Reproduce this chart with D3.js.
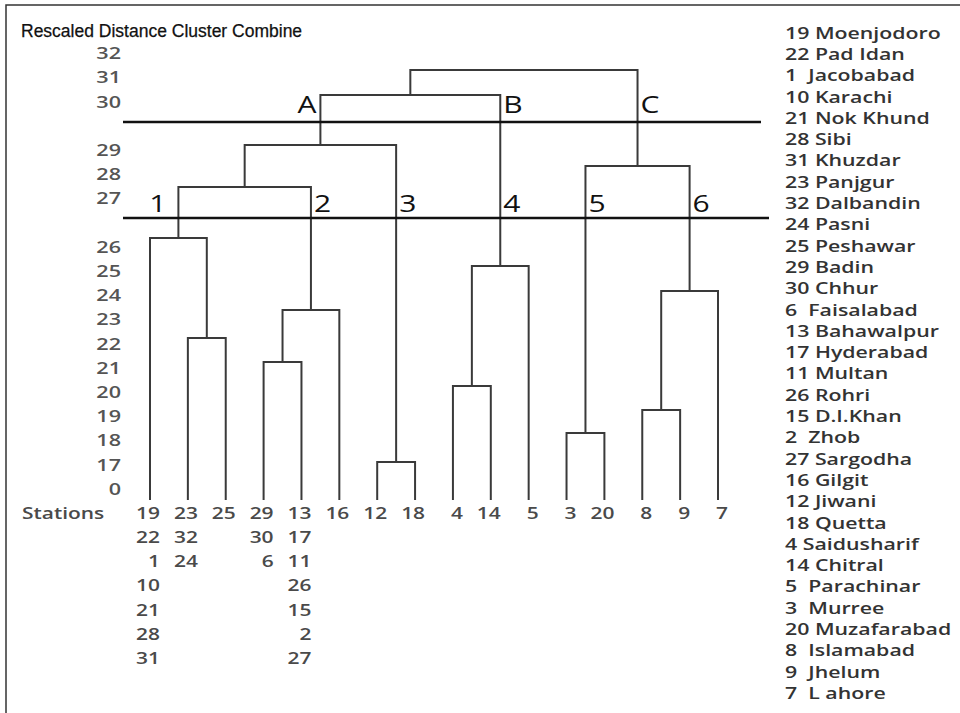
<!DOCTYPE html>
<html>
<head>
<meta charset="utf-8">
<script src="https://cdn.jsdelivr.net/npm/d3@7/dist/d3.min.js"></script>
<style>
  html, body { margin: 0; padding: 0; background: #fff; }
  svg { display: block; }
  text { white-space: pre; }
</style>
</head>
<body>
<svg id="chart" width="960" height="713"></svg>
<script>
// ---------------- DATA ----------------
const title = "Rescaled Distance Cluster Combine";
const leafOrder = ["19","23","25","29","13","16","12","18","4","14","5","3","20","8","9","7"];
// y-axis tick labels and their level on the rescaled axis
const yTickLabels = ["0","17","18","19","20","21","22","23","24","25","26","27","28","29","30","31","32"];
const yTickLevels = [0,1,2,3,4,5,6,7,8,9,10,12,13,14,16,17,18];
// merges: left child, right child, merge level
const mergeIds    = ["c1a","c1","c2a","c2","c12","c3","A","c4a","B","AB","c5","c6a","c6","C","root"];
const mergeLeft   = ["23","19","29","c2a","c1","12","c12","4","c4a","A","3","8","c6a","c5","AB"];
const mergeRight  = ["25","c1a","13","16","c2","18","c3","14","5","B","20","9","7","c6","C"];
const mergeLevel  = [6.24,10.37,5.25,7.40,12.48,1.12,14.21,4.26,9.21,16.28,2.31,3.26,8.18,13.35,17.31];
const leafBase = -0.45;
// cut lines
const cutLevels = [15.17, 11.2];
// cluster labels: node, text, which cut, side
const clusterNodes = ["A","B","C","c1","c2","c3","B","c5","c6"];
const clusterText  = ["A","B","C","1","2","3","4","5","6"];
const clusterCut   = [0,0,0,1,1,1,1,1,1];
const clusterSide  = ["left","right","right","left","right","right","right","right","right"];
// extra station numbers listed below leaves
const stackLeaf  = ["19","23","29","13"];
const stackItems = [["22","1","10","21","28","31"],["32","24"],["30","6"],["17","11","26","15","2","27"]];
// legend
const legendItems = ["19 Moenjodoro","22 Pad Idan","1  Jacobabad","10 Karachi","21 Nok Khund","28 Sibi",
  "31 Khuzdar","23 Panjgur","32 Dalbandin","24 Pasni","25 Peshawar","29 Badin","30 Chhur",
  "6  Faisalabad","13 Bahawalpur","17 Hyderabad","11 Multan","26 Rohri","15 D.I.Khan","2  Zhob",
  "27 Sargodha","16 Gilgit","12 Jiwani","18 Quetta","4 Saidusharif","14 Chitral","5  Parachinar",
  "3  Murree","20 Muzafarabad","8  Islamabad","9  Jhelum","7  L ahore"];

// ---------------- DRAW ----------------
const svg = d3.select("#chart");
const SX = 1.35; // horizontal stretch of the reference's text

const x = d3.scalePoint().domain(leafOrder).range([150, 718]);
const y = d3.scaleLinear().domain([0, 18]).range([489, 53.4]);
const cutX = [[123, 761], [123, 769]];

// frame
svg.append("path").attr("d", "M6,713 V5 H960").attr("fill", "none")
  .attr("stroke", "#333").attr("stroke-width", 1.5);

// title
svg.append("text").attr("x", 21).attr("y", 37).text(title)
  .attr("font-family", "'Liberation Sans', Arial, sans-serif").attr("font-size", 17.5)
  .attr("fill", "#111").attr("stroke", "#111").attr("stroke-width", 0.25);

// node positions
const pos = {};
leafOrder.forEach(l => pos[l] = {x: x(l), h: leafBase});
mergeIds.forEach((id, i) => {
  const a = pos[mergeLeft[i]], b = pos[mergeRight[i]];
  pos[id] = {x: (a.x + b.x) / 2, h: mergeLevel[i]};
});

// dendrogram brackets
const g = svg.append("g").attr("fill", "none").attr("stroke", "#3a3a3a").attr("stroke-width", 2);
mergeIds.forEach((id, i) => {
  const a = pos[mergeLeft[i]], b = pos[mergeRight[i]], m = pos[id];
  g.append("path").attr("d",
    `M${a.x},${y(a.h)}V${y(m.h)}H${b.x}V${y(b.h)}`);
});

// cut lines
cutLevels.forEach((c, i) => {
  svg.append("line").attr("x1", cutX[i][0]).attr("x2", cutX[i][1])
    .attr("y1", y(c)).attr("y2", y(c)).attr("stroke", "#111").attr("stroke-width", 2.5);
});

// cluster labels
clusterNodes.forEach((n, i) => {
  const px = pos[n].x;
  const left = clusterSide[i] === "left";
  const gap = clusterCut[i] === 1 && left ? 12 : 4;
  const yy = y(cutLevels[clusterCut[i]]) - (clusterCut[i] === 0 ? 9 : 6);
  svg.append("text")
    .attr("transform", `translate(${left ? px - gap : px + 3},${yy}) scale(1.25,1)`)
    .attr("text-anchor", left ? "end" : "start")
    .attr("font-family", "'Open Sans', sans-serif").attr("font-size", 24)
    .attr("fill", "#111").text(clusterText[i]);
});

// y tick labels
yTickLabels.forEach((t, i) => {
  svg.append("text")
    .attr("transform", `translate(121,${y(yTickLevels[i])}) scale(${SX},1)`)
    .attr("text-anchor", "end").attr("dy", "0.36em")
    .attr("font-family", "'Open Sans', sans-serif").attr("font-size", 16).attr("font-weight", 600)
    .attr("fill", "#555").text(t);
});

// stations row
const rowY0 = 513, rowStep = 24.3;
const stFont = (s) => s.attr("font-family", "'Open Sans', sans-serif").attr("font-size", 15.5)
  .attr("font-weight", 600).attr("fill", "#4a4a4a").attr("dy", "0.36em");
svg.append("text").attr("transform", `translate(22,${rowY0}) scale(${SX},1)`)
  .text("Stations").call(stFont);
leafOrder.forEach(l => {
  svg.append("text").attr("transform", `translate(${x(l) + 10},${rowY0}) scale(${SX},1)`)
    .attr("text-anchor", "end").text(l).call(stFont);
});
stackLeaf.forEach((l, i) => {
  stackItems[i].forEach((s, j) => {
    svg.append("text").attr("transform", `translate(${x(l) + 10},${rowY0 + rowStep * (j + 1)}) scale(${SX},1)`)
      .attr("text-anchor", "end").text(s).call(stFont);
  });
});

// legend
legendItems.forEach((t, i) => {
  svg.append("text").attr("transform", `translate(785,${33 + i * 21.3}) scale(${SX},1)`)
    .attr("dy", "0.36em").attr("font-family", "'Open Sans', sans-serif").attr("font-size", 15.8)
    .attr("font-weight", 600).attr("fill", "#333").text(t);
});
</script>
</body>
</html>
